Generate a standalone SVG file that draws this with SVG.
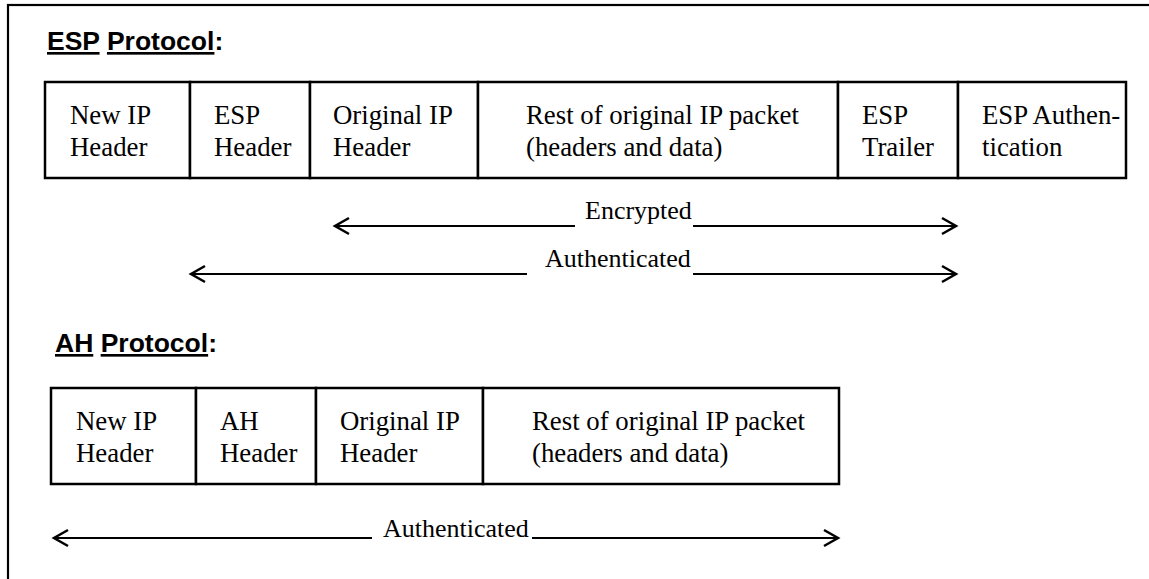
<svg xmlns="http://www.w3.org/2000/svg" width="1149" height="579" viewBox="0 0 1149 579">
  <style>
    .cell { fill: #ffffff; stroke: #000000; stroke-width: 2.5; }
    .lbl { font-family: "Liberation Serif", "Times New Roman", serif; font-size: 26.8px; fill: #000000; }
    .alb { font-family: "Liberation Serif", "Times New Roman", serif; font-size: 26px; fill: #000000; }
    .title { font-family: "Liberation Sans", Arial, sans-serif; font-size: 26.5px; font-weight: bold; fill: #000000; }
    .conn { stroke: #000000; stroke-width: 2; fill: none; }
  </style>
  <defs>
    <marker id="chev" viewBox="-16 -10 18 20" refX="0" refY="0" markerWidth="18" markerHeight="20" markerUnits="userSpaceOnUse" orient="auto-start-reverse" overflow="visible">
      <path d="M-14,-8 L0,0 L-14,8" fill="none" stroke="#000000" stroke-width="2.5"/>
    </marker>
  </defs>
  <rect x="0" y="0" width="1149" height="579" fill="#ffffff"/>
  <rect id="frame" x="8" y="5" width="1160" height="600" fill="none" stroke="#000000" stroke-width="2.2"/>

  <g id="esp-title">
    <text class="title" x="47" y="50"><tspan text-decoration="underline">ESP</tspan> <tspan text-decoration="underline">Protocol</tspan>:</text>
  </g>

  <g id="esp-new-ip">
    <rect class="cell" x="45" y="82" width="145" height="96"/>
    <text class="lbl" x="70" y="124">New IP</text>
    <text class="lbl" x="70" y="156">Header</text>
  </g>
  <g id="esp-header">
    <rect class="cell" x="190" y="82" width="120" height="96"/>
    <text class="lbl" x="214" y="124">ESP</text>
    <text class="lbl" x="214" y="156">Header</text>
  </g>
  <g id="esp-orig-ip">
    <rect class="cell" x="310" y="82" width="168" height="96"/>
    <text class="lbl" x="333" y="124">Original IP</text>
    <text class="lbl" x="333" y="156">Header</text>
  </g>
  <g id="esp-rest">
    <rect class="cell" x="478" y="82" width="360" height="96"/>
    <text class="lbl" x="526" y="124">Rest of original IP packet</text>
    <text class="lbl" x="526" y="156">(headers and data)</text>
  </g>
  <g id="esp-trailer">
    <rect class="cell" x="838" y="82" width="120" height="96"/>
    <text class="lbl" x="862" y="124">ESP</text>
    <text class="lbl" x="862" y="156">Trailer</text>
  </g>
  <g id="esp-auth">
    <rect class="cell" x="958" y="82" width="168" height="96"/>
    <text class="lbl" x="982" y="124">ESP Authen-</text>
    <text class="lbl" x="982" y="156">tication</text>
  </g>

  <g id="ah-title">
    <text class="title" x="55" y="352"><tspan text-decoration="underline">AH</tspan> <tspan text-decoration="underline">Protocol</tspan>:</text>
  </g>

  <g id="ah-new-ip">
    <rect class="cell" x="51" y="388" width="145" height="96"/>
    <text class="lbl" x="76" y="430">New IP</text>
    <text class="lbl" x="76" y="462">Header</text>
  </g>
  <g id="ah-header">
    <rect class="cell" x="196" y="388" width="120" height="96"/>
    <text class="lbl" x="220" y="430">AH</text>
    <text class="lbl" x="220" y="462">Header</text>
  </g>
  <g id="ah-orig-ip">
    <rect class="cell" x="316" y="388" width="167" height="96"/>
    <text class="lbl" x="340" y="430">Original IP</text>
    <text class="lbl" x="340" y="462">Header</text>
  </g>
  <g id="ah-rest">
    <rect class="cell" x="483" y="388" width="356" height="96"/>
    <text class="lbl" x="532" y="430">Rest of original IP packet</text>
    <text class="lbl" x="532" y="462">(headers and data)</text>
  </g>

  <g id="connectors">
    <line class="conn" x1="335" y1="226" x2="575" y2="226" marker-start="url(#chev)"/>
    <line class="conn" x1="693" y1="226" x2="956" y2="226" marker-end="url(#chev)"/>
    <text class="alb" x="585" y="219">Encrypted</text>

    <line class="conn" x1="191" y1="274" x2="527" y2="274" marker-start="url(#chev)"/>
    <line class="conn" x1="693" y1="274" x2="956" y2="274" marker-end="url(#chev)"/>
    <text class="alb" x="545" y="267">Authenticated</text>

    <line class="conn" x1="54" y1="538" x2="372" y2="538" marker-start="url(#chev)"/>
    <line class="conn" x1="532" y1="538" x2="838" y2="538" marker-end="url(#chev)"/>
    <text class="alb" x="383" y="537">Authenticated</text>
  </g>
</svg>
